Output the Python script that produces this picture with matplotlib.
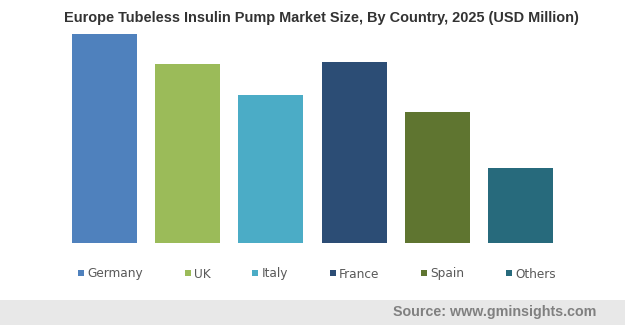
import matplotlib
matplotlib.use("Agg")
import matplotlib.pyplot as plt
from matplotlib.patches import Rectangle

countries = ["Germany", "UK", "Italy", "France", "Spain", "Others"]
values = [20.9, 17.9, 14.8, 18.1, 13.1, 7.5]
colors = ["#4F81BD", "#9BBB59", "#4BACC6", "#2C4D75", "#5F7530", "#276A7C"]
title = "Europe Tubeless Insulin Pump Market Size, By Country, 2025 (USD Million)"
source = "Source: www.gminsights.com"

W, H = 625, 325
fig = plt.figure(figsize=(W / 100, H / 100), dpi=100)
fig.patch.set_facecolor("white")

# footer band
fig.patches.append(Rectangle((0, 0), 1, 25 / H, transform=fig.transFigure,
                             facecolor="#E8E8E8", edgecolor="none", zorder=0))

ax = fig.add_axes([63 / W, (H - 243) / H, 499 / W, 209 / H])
x = range(len(countries))
ax.bar(x, values, width=0.783, color=colors)
ax.set_xlim(-0.5, len(countries) - 0.5)
ax.set_ylim(0, max(values))
ax.axis("off")

fig.text(321 / W, 1 - 18 / H, title, ha="center", va="center",
         fontsize=10.45, fontweight="bold", color="#333333",
         family="Liberation Sans")

# legend laid out as a row: square marker, small gap, label, column gap
renderer = fig.canvas.get_renderer()
cur = 78.0
for name, col in zip(countries, colors):
    fig.patches.append(Rectangle((cur / W, 1 - 276 / H), 6 / W, 6 / H,
                                 transform=fig.transFigure, facecolor=col,
                                 edgecolor="none"))
    t = fig.text((cur + 9) / W, 1 - 277.5 / H, name, ha="left", va="baseline",
                 fontsize=8.7, color="#595959", family="DejaVu Sans")
    wpx = t.get_window_extent(renderer).width
    cur = cur + 9 + wpx + 42

fig.text(596 / W, 1 - 312 / H, source, ha="right", va="center", fontsize=10.3,
         fontweight="bold", color="#808080", family="Liberation Sans")

fig.savefig("out.png", dpi=100)
